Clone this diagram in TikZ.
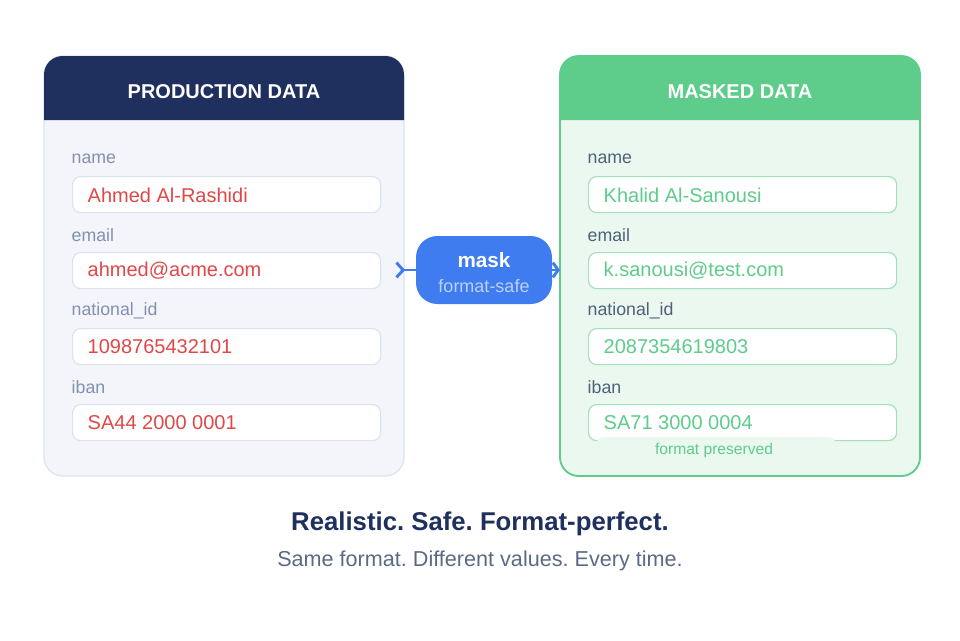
\documentclass[tikz,border=0pt]{standalone}
\usepackage{fontspec}
\setmainfont{Liberation Sans}
\frenchspacing
\usetikzlibrary{arrows.meta}
\definecolor{navy}{HTML}{1F2F5E}
\definecolor{prodbg}{HTML}{F3F5FB}
\definecolor{prodline}{HTML}{DDE2EE}
\definecolor{prodlabel}{HTML}{8391AE}
\definecolor{prodval}{HTML}{E04848}
\definecolor{mgreen}{HTML}{5ECC8B}
\definecolor{maskbg}{HTML}{EBF8F0}
\definecolor{masklabel}{HTML}{4F6178}
\definecolor{fieldline}{HTML}{A5E0BD}
\definecolor{blue}{HTML}{3F7CF0}
\definecolor{subgrey}{HTML}{5A6A85}
\tikzset{
  fieldlabel/.style={anchor=west, font=\fontsize{13.3pt}{15pt}\selectfont},
  fieldbox/.style={draw, fill=white, rounded corners=6, line width=0.9pt, minimum width=231pt, minimum height=27pt, anchor=north west},
  fieldval/.style={anchor=west, font=\fontsize{15pt}{17pt}\selectfont},
  headtext/.style={font=\fontsize{15pt}{17pt}\selectfont\bfseries, text=white},
}
\begin{document}
\begin{tikzpicture}[x=0.75pt, y=-0.75pt]
\useasboundingbox (0,0) rectangle (960,640);
% cards
\filldraw[fill=prodbg, draw=prodline, line width=0.9pt, rounded corners=14] (44,56) rectangle (404,476);
\fill[navy] (44,120) {[rounded corners=14] -- (44,56) -- (404,56)} -- (404,120) -- cycle;
\node[headtext] (prodhead) at (224,92) {PRODUCTION DATA};
\filldraw[fill=maskbg, draw=mgreen, line width=1.4pt, rounded corners=14] (560,56) rectangle (920,476);
\fill[mgreen] (560,120) {[rounded corners=14] -- (560,56) -- (920,56)} -- (920,120) -- cycle;
\node[headtext] (maskhead) at (740,92) {MASKED DATA};
% fields
\foreach \y/\lab/\pv/\mv in {176/name/Ahmed Al-Rashidi/Khalid Al-Sanousi,
                             252/email/ahmed@acme.com/k.sanousi@test.com,
                             328/national\_id/1098765432101/2087354619803,
                             404/iban/SA44 2000 0001/SA71 3000 0004} {
  \node[fieldlabel, text=prodlabel] at (67,\y-17) {\lab};
  \node[fieldbox, draw=prodline] (pbox\y) at (72,\y) {};
  \node[fieldval, text=prodval] at (83,\y+19) {\pv};
  \node[fieldlabel, text=masklabel] at (583,\y-17) {\lab};
  \node[fieldbox, draw=fieldline] (mbox\y) at (588,\y) {};
  \node[fieldval, text=mgreen] at (599,\y+19) {\mv};
}
\fill[maskbg, rounded corners=6] (596,437) rectangle (836,462);
\node[font=\fontsize{11.7pt}{13pt}\selectfont, text=mgreen] (preserved) at (714,450) {format preserved};
% mask step
\node[fill=blue, rounded corners=16, minimum width=102pt, minimum height=51pt] (mask) at (484,270) {};
\node[font=\fontsize{15.5pt}{17pt}\selectfont\bfseries, text=white] (masktitle) at (484,260) {mask};
\node[font=\fontsize{13.5pt}{15pt}\selectfont, text=white!65!blue] (masksub) at (484,286) {format-safe};
\coordinate (pout) at (395,270);
\coordinate (min) at (560,270);
\draw[blue, line width=2.2pt, {Straight Barb[reversed,length=5pt,width=11pt]}-] (pout) -- (mask.west);
\draw[blue, line width=2.2pt, -{Straight Barb[length=4pt,width=11pt]}] (mask.east) -- (min);
% caption
\node[font=\fontsize{19.3pt}{22pt}\selectfont\bfseries, text=navy] (title) at (480,524) {Realistic. Safe. Format-perfect.};
\node[font=\fontsize{16.2pt}{19pt}\selectfont, text=subgrey] (subtitle) at (480,561) {Same format. Different values. Every time.};
\end{tikzpicture}
\end{document}
